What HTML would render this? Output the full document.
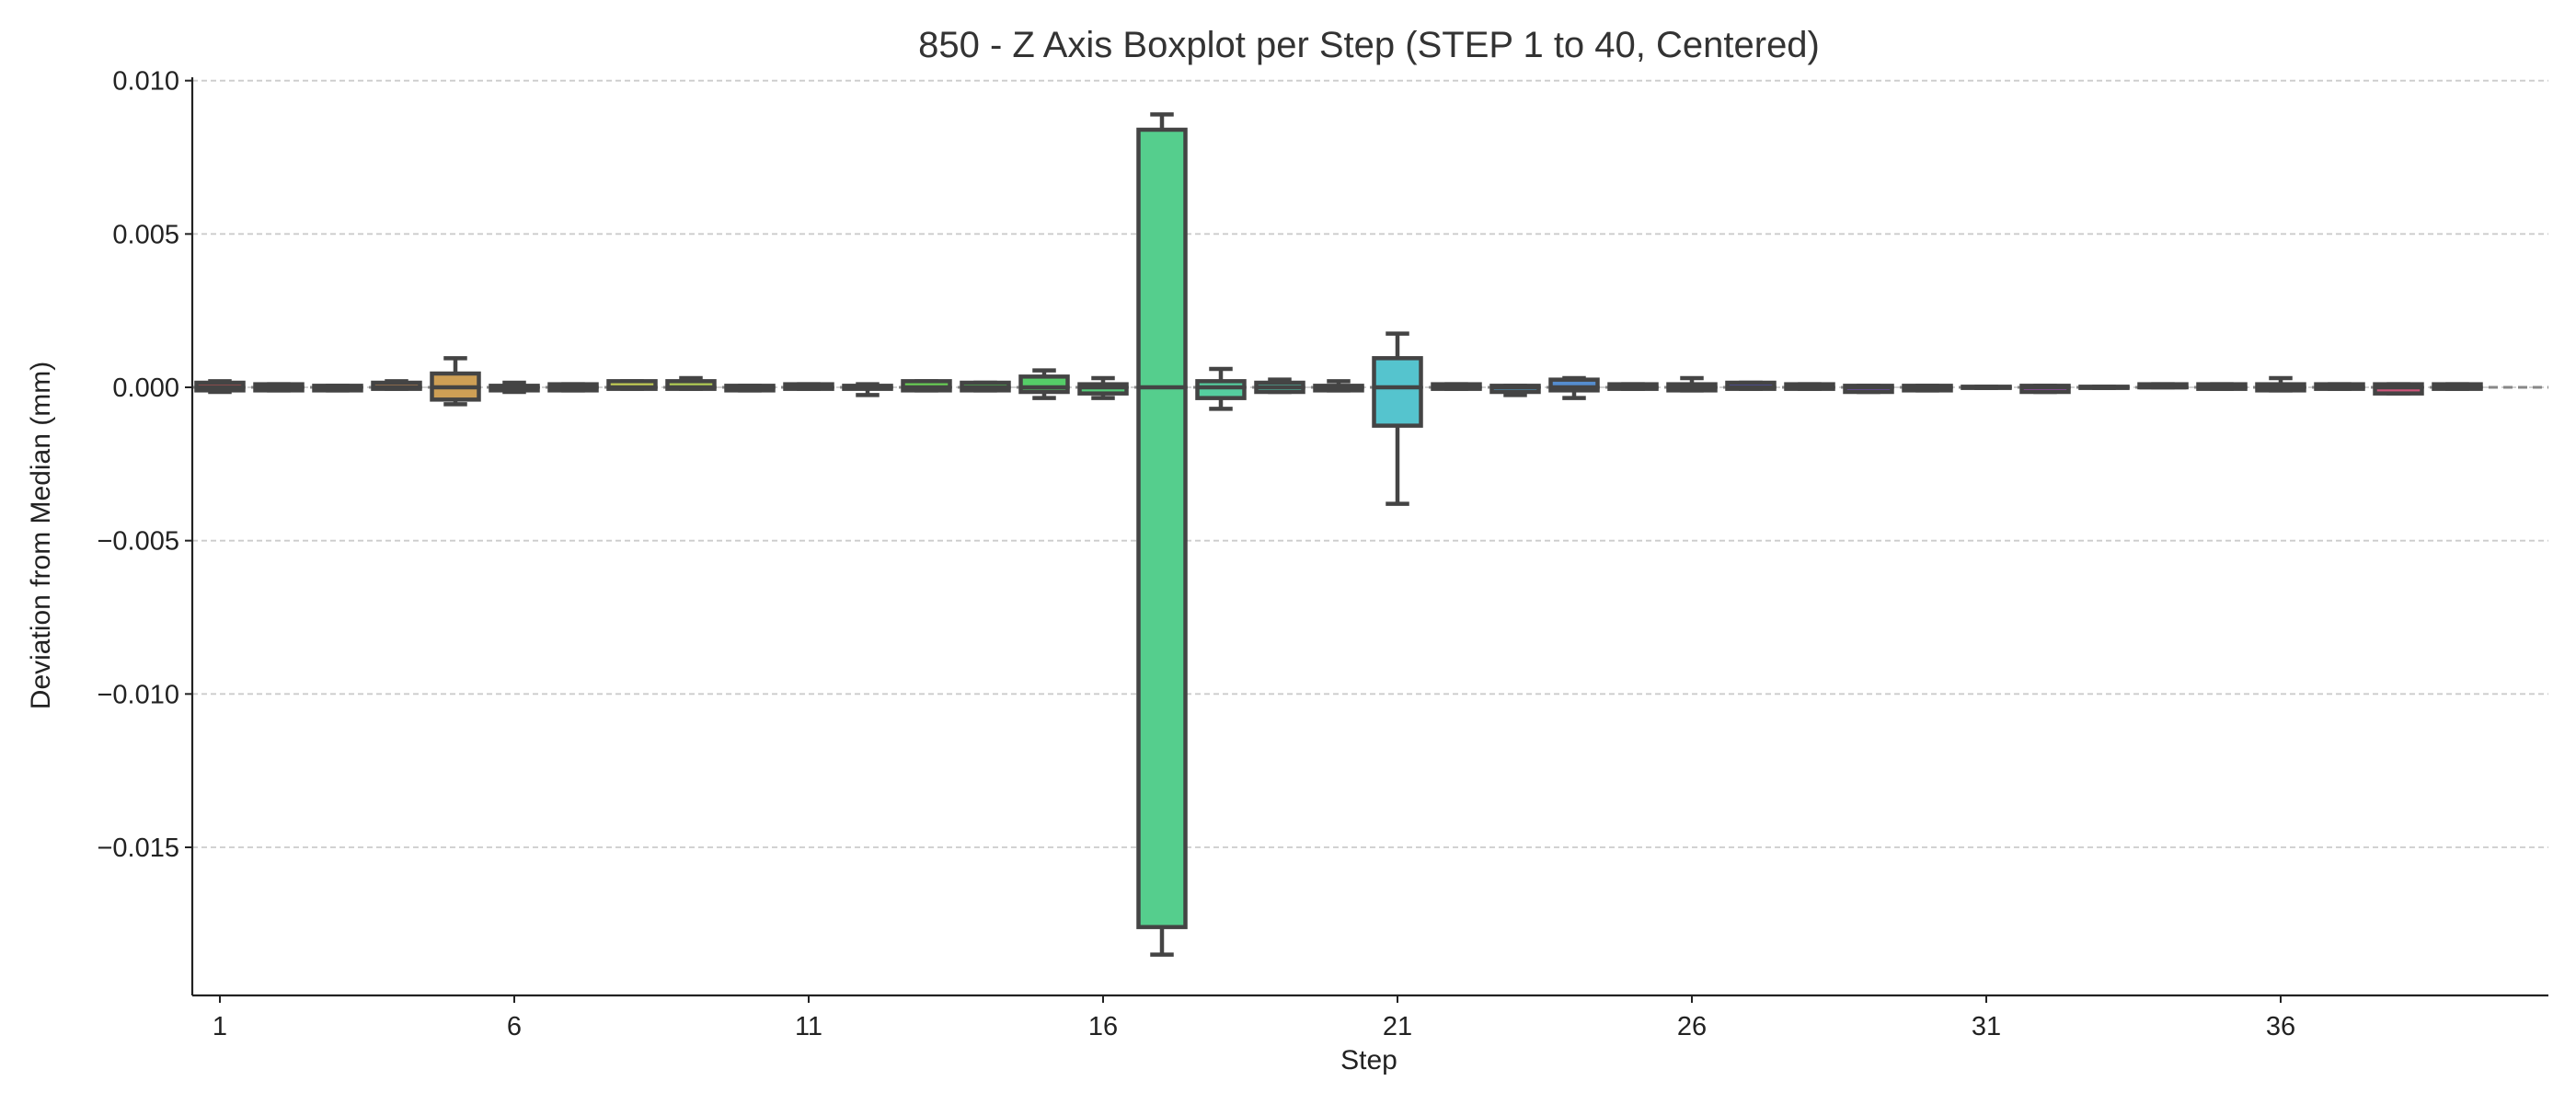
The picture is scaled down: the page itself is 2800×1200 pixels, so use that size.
<!DOCTYPE html>
<html><head><meta charset="utf-8">
<style>
body{margin:0;background:#fff;}
svg{display:block;font-family:"Liberation Sans","DejaVu Sans",sans-serif;}
</style></head>
<body>
<svg id="chart" width="2800" height="1200" viewBox="0 0 2800 1200" xmlns="http://www.w3.org/2000/svg">
<rect width="2800" height="1200" fill="#fff"/>
<text x="1488" y="62" text-anchor="middle" font-size="40" fill="#333">850 - Z Axis Boxplot per Step (STEP 1 to 40, Centered)</text>
<text transform="translate(54,582) rotate(-90)" text-anchor="middle" font-size="30" fill="#222">Deviation from Median (mm)</text>
<text x="1488" y="1162" text-anchor="middle" font-size="30" fill="#222">Step</text>
<g id="grid"></g><g id="boxes"></g><g id="axes"></g>
</svg>
<script>
const steps = Array.from({length:39},(_,i)=>i+1);
const q1 =  [-0.1,-0.1,-0.1,-0.05,-0.4,-0.1,-0.1,-0.05,-0.05,-0.1,-0.05,-0.05,-0.1,-0.1,-0.15,-0.2,-17.6,-0.35,-0.15,-0.1,-1.25,-0.05,-0.15,-0.1,-0.05,-0.1,-0.05,-0.05,-0.15,-0.1,-0.02,-0.15,-0.02,0,-0.05,-0.1,-0.05,-0.2,-0.05];
const q3 =  [0.15,0.1,0.05,0.15,0.45,0.05,0.1,0.2,0.2,0.05,0.1,0.05,0.2,0.15,0.35,0.1,8.4,0.2,0.15,0.05,0.95,0.1,0.05,0.25,0.1,0.1,0.15,0.1,0.05,0.05,0.02,0.05,0.02,0.1,0.1,0.1,0.1,0.1,0.1];
const lo =  [-0.15,-0.1,-0.1,-0.05,-0.55,-0.15,-0.1,-0.05,-0.05,-0.1,-0.05,-0.25,-0.1,-0.1,-0.35,-0.35,-18.5,-0.7,-0.15,-0.1,-3.8,-0.05,-0.25,-0.35,-0.05,-0.1,-0.05,-0.05,-0.15,-0.1,-0.02,-0.15,-0.02,0,-0.05,-0.1,-0.05,-0.2,-0.05];
const hi =  [0.2,0.1,0.05,0.2,0.95,0.15,0.1,0.2,0.3,0.05,0.1,0.1,0.2,0.15,0.55,0.3,8.9,0.6,0.25,0.2,1.75,0.1,0.05,0.3,0.1,0.3,0.15,0.1,0.05,0.05,0.02,0.05,0.02,0.1,0.1,0.3,0.1,0.1,0.1];
const med = new Array(39).fill(0);
const yTicks = [0.010,0.005,0,-0.005,-0.010,-0.015];
const yTickLabels = ["0.010","0.005","0.000","\u22120.005","\u22120.010","\u22120.015"];
const xTicks = [1,6,11,16,21,26,31,36];

const NS="http://www.w3.org/2000/svg";
const L=209,R=2770,T=84,B=1082;
const y = v => 421 - v*33333.3;        // v in mm
const x = s => 239 + (s-1)*64;
function mk(tag,attrs,parent){const e=document.createElementNS(NS,tag);for(const k in attrs)e.setAttribute(k,attrs[k]);parent.appendChild(e);return e;}
const grid=document.getElementById('grid'),boxes=document.getElementById('boxes'),axes=document.getElementById('axes');

yTicks.forEach((t,i)=>{
  const gl=mk('line',{x1:L,x2:R,y1:y(t),y2:y(t),stroke:'#cccccc','stroke-width':1.8,'stroke-dasharray':'6,4'},grid);
  
  
  const tk=mk('line',{x1:L-8,x2:L,y1:y(t),y2:y(t),stroke:'#222','stroke-width':2},axes);
  
  
  const tl=mk('text',{x:L-14,y:y(t)+10,'text-anchor':'end','font-size':29,fill:'#222'},axes);
  tl.textContent=yTickLabels[i];
  
  
});
const zl=mk('line',{x1:L,x2:R,y1:y(0),y2:y(0),stroke:'#888','stroke-width':3,'stroke-dasharray':'10,6'},grid);



const W=51, st='#444', sw=4.5;
steps.forEach((s,i)=>{
  const g=mk('g',{},boxes);
  
  
  const cx=x(s), col='hsl('+(i*360/39)+',55%,57%)';
  mk('line',{x1:cx,x2:cx,y1:y(hi[i]/1000),y2:y(q3[i]/1000),stroke:st,'stroke-width':sw},g);
  mk('line',{x1:cx,x2:cx,y1:y(lo[i]/1000),y2:y(q1[i]/1000),stroke:st,'stroke-width':sw},g);
  mk('line',{x1:cx-W/4,x2:cx+W/4,y1:y(hi[i]/1000),y2:y(hi[i]/1000),stroke:st,'stroke-width':sw},g);
  mk('line',{x1:cx-W/4,x2:cx+W/4,y1:y(lo[i]/1000),y2:y(lo[i]/1000),stroke:st,'stroke-width':sw},g);
  const top=y(q3[i]/1000),bot=y(q1[i]/1000);
  mk('rect',{x:cx-W/2,y:top,width:W,height:Math.max(bot-top,0.5),fill:col,stroke:st,'stroke-width':sw},g);
  mk('line',{x1:cx-W/2,x2:cx+W/2,y1:y(med[i]/1000),y2:y(med[i]/1000),stroke:st,'stroke-width':sw},g);
});

xTicks.forEach(s=>{
  const tk=mk('line',{x1:x(s),x2:x(s),y1:B,y2:B+8,stroke:'#222','stroke-width':2},axes);
  
  
  const tl=mk('text',{x:x(s),y:B+43,'text-anchor':'middle','font-size':29,fill:'#222'},axes);
  tl.textContent=s;
  
  
});
const la=mk('line',{x1:L,x2:L,y1:T,y2:B,stroke:'#222','stroke-width':2.2},axes);


const ba=mk('line',{x1:L,x2:R,y1:B,y2:B,stroke:'#222','stroke-width':2.2},axes);


</script>
</body></html>
